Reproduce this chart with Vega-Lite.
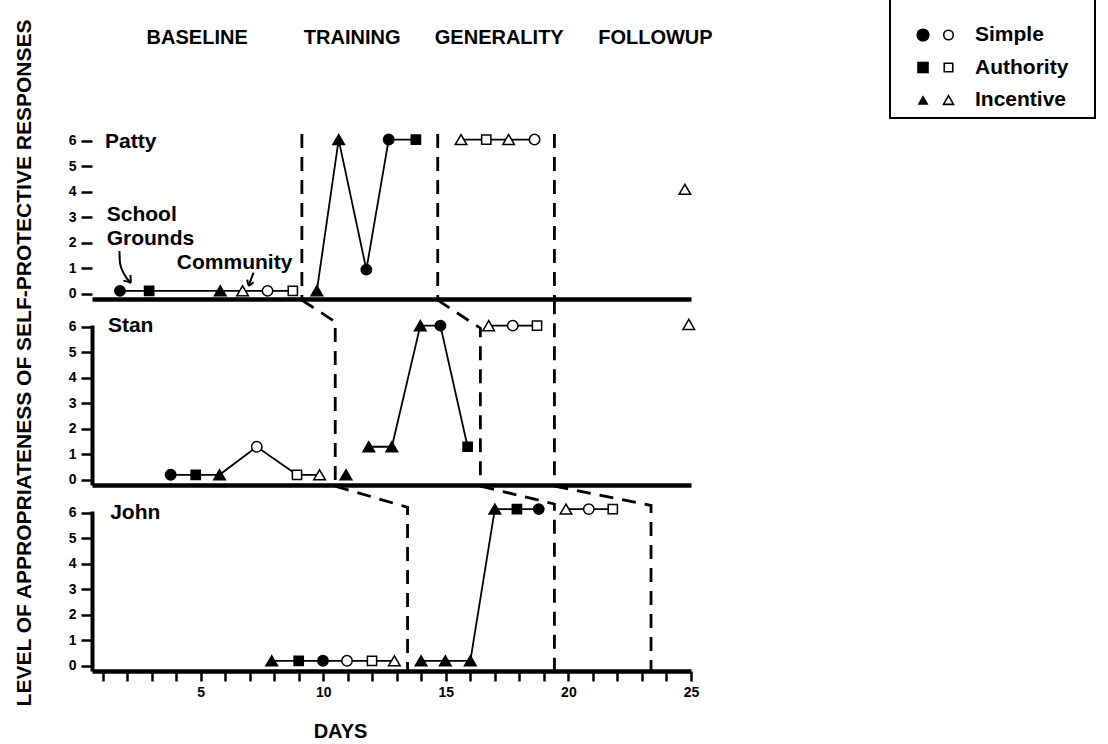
{
  "$schema": "https://vega.github.io/schema/vega-lite/v6.json",
  "padding": {"top": -15, "left": 14, "right": 0, "bottom": 0},
  "title": {"text": "LEVEL OF APPROPRIATENESS OF SELF-PROTECTIVE RESPONSES", "orient": "left", "anchor": "middle", "fontSize": 21, "fontWeight": "bold", "offset": 33, "color": "black", "font": "Liberation Sans"},
  "datasets": {
    "obs": [
      {"child": "Patty", "day": 1.71, "level": 0.12, "lure": "Simple", "setting": "School grounds", "segment": "baseline"},
      {"child": "Patty", "day": 2.90, "level": 0.12, "lure": "Authority", "setting": "School grounds", "segment": "baseline"},
      {"child": "Patty", "day": 5.80, "level": 0.12, "lure": "Incentive", "setting": "School grounds", "segment": "baseline"},
      {"child": "Patty", "day": 6.71, "level": 0.12, "lure": "Incentive", "setting": "Community", "segment": "baseline"},
      {"child": "Patty", "day": 7.73, "level": 0.12, "lure": "Simple", "setting": "Community", "segment": "baseline"},
      {"child": "Patty", "day": 8.76, "level": 0.12, "lure": "Authority", "setting": "Community", "segment": "baseline"},
      {"child": "Patty", "day": 9.74, "level": 0.12, "lure": "Incentive", "setting": "School grounds", "segment": "training"},
      {"child": "Patty", "day": 10.63, "level": 6.05, "lure": "Incentive", "setting": "School grounds", "segment": "training"},
      {"child": "Patty", "day": 11.76, "level": 0.95, "lure": "Simple", "setting": "School grounds", "segment": "training"},
      {"child": "Patty", "day": 12.67, "level": 6.05, "lure": "Simple", "setting": "School grounds", "segment": "training"},
      {"child": "Patty", "day": 13.78, "level": 6.05, "lure": "Authority", "setting": "School grounds", "segment": "training"},
      {"child": "Patty", "day": 15.62, "level": 6.05, "lure": "Incentive", "setting": "Community", "segment": "generality"},
      {"child": "Patty", "day": 16.65, "level": 6.05, "lure": "Authority", "setting": "Community", "segment": "generality"},
      {"child": "Patty", "day": 17.56, "level": 6.05, "lure": "Incentive", "setting": "Community", "segment": "generality"},
      {"child": "Patty", "day": 18.62, "level": 6.05, "lure": "Simple", "setting": "Community", "segment": "generality"},
      {"child": "Patty", "day": 24.75, "level": 4.1, "lure": "Incentive", "setting": "Community", "segment": "followup"},
      {"child": "Stan", "day": 3.78, "level": 0.2, "lure": "Simple", "setting": "School grounds", "segment": "baseline"},
      {"child": "Stan", "day": 4.80, "level": 0.2, "lure": "Authority", "setting": "School grounds", "segment": "baseline"},
      {"child": "Stan", "day": 5.77, "level": 0.2, "lure": "Incentive", "setting": "School grounds", "segment": "baseline"},
      {"child": "Stan", "day": 7.29, "level": 1.3, "lure": "Simple", "setting": "Community", "segment": "baseline"},
      {"child": "Stan", "day": 8.93, "level": 0.2, "lure": "Authority", "setting": "Community", "segment": "baseline"},
      {"child": "Stan", "day": 9.85, "level": 0.2, "lure": "Incentive", "setting": "Community", "segment": "baseline"},
      {"child": "Stan", "day": 10.93, "level": 0.2, "lure": "Incentive", "setting": "School grounds", "segment": "training1"},
      {"child": "Stan", "day": 11.86, "level": 1.3, "lure": "Incentive", "setting": "School grounds", "segment": "training2"},
      {"child": "Stan", "day": 12.80, "level": 1.3, "lure": "Incentive", "setting": "School grounds", "segment": "training2"},
      {"child": "Stan", "day": 13.96, "level": 6.05, "lure": "Incentive", "setting": "School grounds", "segment": "training2"},
      {"child": "Stan", "day": 14.78, "level": 6.05, "lure": "Simple", "setting": "School grounds", "segment": "training2"},
      {"child": "Stan", "day": 15.89, "level": 1.3, "lure": "Authority", "setting": "School grounds", "segment": "training2"},
      {"child": "Stan", "day": 16.75, "level": 6.05, "lure": "Incentive", "setting": "Community", "segment": "generality"},
      {"child": "Stan", "day": 17.73, "level": 6.05, "lure": "Simple", "setting": "Community", "segment": "generality"},
      {"child": "Stan", "day": 18.72, "level": 6.05, "lure": "Authority", "setting": "Community", "segment": "generality"},
      {"child": "Stan", "day": 24.91, "level": 6.1, "lure": "Incentive", "setting": "Community", "segment": "followup"},
      {"child": "John", "day": 7.90, "level": 0.2, "lure": "Incentive", "setting": "School grounds", "segment": "baseline"},
      {"child": "John", "day": 9.00, "level": 0.2, "lure": "Authority", "setting": "School grounds", "segment": "baseline"},
      {"child": "John", "day": 9.99, "level": 0.2, "lure": "Simple", "setting": "School grounds", "segment": "baseline"},
      {"child": "John", "day": 10.97, "level": 0.2, "lure": "Simple", "setting": "Community", "segment": "baseline"},
      {"child": "John", "day": 11.99, "level": 0.2, "lure": "Authority", "setting": "Community", "segment": "baseline"},
      {"child": "John", "day": 12.90, "level": 0.2, "lure": "Incentive", "setting": "Community", "segment": "baseline"},
      {"child": "John", "day": 13.99, "level": 0.2, "lure": "Incentive", "setting": "School grounds", "segment": "training"},
      {"child": "John", "day": 14.98, "level": 0.2, "lure": "Incentive", "setting": "School grounds", "segment": "training"},
      {"child": "John", "day": 16.00, "level": 0.2, "lure": "Incentive", "setting": "School grounds", "segment": "training"},
      {"child": "John", "day": 17.00, "level": 6.15, "lure": "Incentive", "setting": "School grounds", "segment": "training"},
      {"child": "John", "day": 17.90, "level": 6.15, "lure": "Authority", "setting": "School grounds", "segment": "training"},
      {"child": "John", "day": 18.79, "level": 6.15, "lure": "Simple", "setting": "School grounds", "segment": "training"},
      {"child": "John", "day": 19.90, "level": 6.15, "lure": "Incentive", "setting": "Community", "segment": "generality"},
      {"child": "John", "day": 20.83, "level": 6.15, "lure": "Simple", "setting": "Community", "segment": "generality"},
      {"child": "John", "day": 21.81, "level": 6.15, "lure": "Authority", "setting": "Community", "segment": "generality"}
    ],
    "phase": [
      {"child": "Patty", "change": "A", "seq": 1, "day": 9.13, "level": 6.27},
      {"child": "Patty", "change": "A", "seq": 2, "day": 9.13, "level": -0.2},
      {"child": "Patty", "change": "B", "seq": 1, "day": 14.67, "level": 6.27},
      {"child": "Patty", "change": "B", "seq": 2, "day": 14.67, "level": -0.2},
      {"child": "Patty", "change": "C", "seq": 1, "day": 19.43, "level": 6.27},
      {"child": "Patty", "change": "C", "seq": 2, "day": 19.43, "level": -0.2},
      {"child": "Stan", "change": "A", "seq": 1, "day": 9.13, "level": 7.05},
      {"child": "Stan", "change": "A", "seq": 2, "day": 10.49, "level": 6.2},
      {"child": "Stan", "change": "A", "seq": 3, "day": 10.49, "level": -0.2},
      {"child": "Stan", "change": "B", "seq": 1, "day": 14.67, "level": 7.05},
      {"child": "Stan", "change": "B", "seq": 2, "day": 16.41, "level": 5.95},
      {"child": "Stan", "change": "B", "seq": 3, "day": 16.41, "level": -0.2},
      {"child": "Stan", "change": "C", "seq": 1, "day": 19.43, "level": 7.05},
      {"child": "Stan", "change": "C", "seq": 2, "day": 19.43, "level": -0.2},
      {"child": "John", "change": "A", "seq": 1, "day": 10.49, "level": 7.05},
      {"child": "John", "change": "A", "seq": 2, "day": 13.44, "level": 6.22},
      {"child": "John", "change": "A", "seq": 3, "day": 13.44, "level": -0.2},
      {"child": "John", "change": "B", "seq": 1, "day": 16.41, "level": 7.05},
      {"child": "John", "change": "B", "seq": 2, "day": 19.43, "level": 6.35},
      {"child": "John", "change": "B", "seq": 3, "day": 19.43, "level": -0.2},
      {"child": "John", "change": "C", "seq": 1, "day": 19.43, "level": 7.05},
      {"child": "John", "change": "C", "seq": 2, "day": 23.37, "level": 6.29},
      {"child": "John", "change": "C", "seq": 3, "day": 23.37, "level": -0.2}
    ],
    "notes": [
      {"child": "Patty", "kind": "name", "text": "Patty", "day": 1.1, "level": 5.73},
      {"child": "Stan", "kind": "name", "text": "Stan", "day": 1.22, "level": 5.81},
      {"child": "John", "kind": "name", "text": "John", "day": 1.31, "level": 5.77},
      {"child": "Patty", "kind": "note", "text": "School", "day": 1.17, "level": 2.86},
      {"child": "Patty", "kind": "note", "text": "Grounds", "day": 1.17, "level": 1.92},
      {"child": "Patty", "kind": "note", "text": "Community", "day": 4.03, "level": 0.96},
      {"child": "Patty", "kind": "phase", "text": "BASELINE", "day": 4.86, "level": 10.04},
      {"child": "Patty", "kind": "phase", "text": "TRAINING", "day": 11.18, "level": 10.04},
      {"child": "Patty", "kind": "phase", "text": "GENERALITY", "day": 17.18, "level": 10.04},
      {"child": "Patty", "kind": "phase", "text": "FOLLOWUP", "day": 23.55, "level": 10.04}
    ],
    "arrows": [
      {"child": "Patty", "arrow": "school", "seq": 1, "day": 1.69, "level": 1.68},
      {"child": "Patty", "arrow": "school", "seq": 2, "day": 1.71, "level": 1.21},
      {"child": "Patty", "arrow": "school", "seq": 3, "day": 1.88, "level": 0.78},
      {"child": "Patty", "arrow": "school", "seq": 4, "day": 2.16, "level": 0.43},
      {"child": "Patty", "arrow": "schoolhead", "seq": 1, "day": 1.85, "level": 0.52},
      {"child": "Patty", "arrow": "schoolhead", "seq": 2, "day": 2.16, "level": 0.43},
      {"child": "Patty", "arrow": "schoolhead", "seq": 3, "day": 2.14, "level": 0.74},
      {"child": "Patty", "arrow": "community", "seq": 1, "day": 7.16, "level": 0.83},
      {"child": "Patty", "arrow": "community", "seq": 2, "day": 6.96, "level": 0.33},
      {"child": "Patty", "arrow": "communityhead", "seq": 1, "day": 6.90, "level": 0.56},
      {"child": "Patty", "arrow": "communityhead", "seq": 2, "day": 6.96, "level": 0.33},
      {"child": "Patty", "arrow": "communityhead", "seq": 3, "day": 7.16, "level": 0.46}
    ],
    "key": [
      {"lure": "Simple", "setting": "School grounds"},
      {"lure": "Simple", "setting": "Community"},
      {"lure": "Authority", "setting": "School grounds"},
      {"lure": "Authority", "setting": "Community"},
      {"lure": "Incentive", "setting": "School grounds"},
      {"lure": "Incentive", "setting": "Community"}
    ]
  },
  "hconcat": [
    {
      "spacing": 26,
      "bounds": "flush",
      "vconcat": [
        {
          "width": 599,
          "height": 313,
          "encoding": {
            "x": {"field": "day", "type": "quantitative", "scale": {"domain": [0.57, 25], "nice": false, "zero": false}, "axis": {"title": null, "labels": false, "ticks": false, "domainWidth": 4.5}},
            "y": {"field": "level", "type": "quantitative", "scale": {"domain": [-0.2, 12.07], "nice": false, "zero": false}, "axis": {"title": null, "values": [0, 1, 2, 3, 4, 5, 6], "domain": false, "tickSize": 11, "tickWidth": 2.5, "labelPadding": 5}}
          },
          "layer": [
            {"data": {"name": "phase"}, "transform": [{"filter": "datum.child === 'Patty'"}], "mark": {"type": "line", "color": "black", "strokeWidth": 2.8, "strokeDash": [14, 9]}, "encoding": {"detail": {"field": "change"}, "order": {"field": "seq"}}},
            {"data": {"values": [{}]}, "mark": {"type": "rule", "color": "black", "strokeWidth": 4}, "encoding": {"x": {"datum": 0.57}, "y": {"datum": -0.2}, "y2": {"datum": 6.075}}},
            {"data": {"name": "obs"}, "transform": [{"filter": "datum.child === 'Patty'"}], "mark": {"type": "line", "color": "black", "strokeWidth": 1.8}, "encoding": {"detail": {"field": "segment"}, "order": {"field": "day"}}},
            {"data": {"name": "obs"}, "transform": [{"filter": "datum.child === 'Patty'"}], "mark": {"type": "point", "filled": true, "stroke": "black", "strokeWidth": 1.5, "opacity": 1},
              "encoding": {
                "shape": {"field": "lure", "type": "nominal", "scale": {"domain": ["Simple", "Authority", "Incentive"], "range": ["circle", "square", "triangle-up"]}, "legend": null},
                "size": {"field": "lure", "type": "nominal", "scale": {"type": "ordinal", "domain": ["Simple", "Authority", "Incentive"], "range": [108, 85, 135]}, "legend": null},
                "fill": {"field": "setting", "type": "nominal", "scale": {"domain": ["School grounds", "Community"], "range": ["black", "white"]}, "legend": null}
              }},
            {"data": {"name": "arrows"}, "transform": [{"filter": "datum.child === 'Patty'"}], "mark": {"type": "line", "color": "black", "strokeWidth": 2, "interpolate": "monotone"}, "encoding": {"detail": {"field": "arrow"}, "order": {"field": "seq"}}},
            {"data": {"name": "notes"}, "transform": [{"filter": "datum.child === 'Patty' && datum.kind !== 'phase'"}], "mark": {"type": "text", "align": "left", "baseline": "alphabetic", "fontSize": 21, "fontWeight": "bold", "color": "black"}, "encoding": {"text": {"field": "text", "type": "nominal"}}},
            {"data": {"name": "notes"}, "transform": [{"filter": "datum.kind === 'phase'"}], "mark": {"type": "text", "align": "center", "baseline": "middle", "fontSize": 20, "fontWeight": "bold", "color": "black"}, "encoding": {"text": {"field": "text", "type": "nominal"}}}
          ]
        },
        {
          "width": 599,
          "height": 160,
          "encoding": {
            "x": {"field": "day", "type": "quantitative", "scale": {"domain": [0.57, 25], "nice": false, "zero": false}, "axis": {"title": null, "labels": false, "ticks": false, "domainWidth": 4.5}},
            "y": {"field": "level", "type": "quantitative", "scale": {"domain": [-0.2, 6.075], "nice": false, "zero": false}, "axis": {"title": null, "values": [0, 1, 2, 3, 4, 5, 6], "domainWidth": 4, "tickSize": 11, "tickWidth": 2.5, "labelPadding": 5}}
          },
          "layer": [
            {"data": {"name": "phase"}, "transform": [{"filter": "datum.child === 'Stan'"}], "mark": {"type": "line", "color": "black", "strokeWidth": 2.8, "strokeDash": [14, 9]}, "encoding": {"detail": {"field": "change"}, "order": {"field": "seq"}}},
            {"data": {"name": "obs"}, "transform": [{"filter": "datum.child === 'Stan'"}], "mark": {"type": "line", "color": "black", "strokeWidth": 1.8}, "encoding": {"detail": {"field": "segment"}, "order": {"field": "day"}}},
            {"data": {"name": "obs"}, "transform": [{"filter": "datum.child === 'Stan'"}], "mark": {"type": "point", "filled": true, "stroke": "black", "strokeWidth": 1.5, "opacity": 1},
              "encoding": {
                "shape": {"field": "lure", "type": "nominal", "scale": {"domain": ["Simple", "Authority", "Incentive"], "range": ["circle", "square", "triangle-up"]}, "legend": null},
                "size": {"field": "lure", "type": "nominal", "scale": {"type": "ordinal", "domain": ["Simple", "Authority", "Incentive"], "range": [108, 85, 135]}, "legend": null},
                "fill": {"field": "setting", "type": "nominal", "scale": {"domain": ["School grounds", "Community"], "range": ["black", "white"]}, "legend": null}
              }},
            {"data": {"name": "notes"}, "transform": [{"filter": "datum.child === 'Stan'"}], "mark": {"type": "text", "align": "left", "baseline": "alphabetic", "fontSize": 21, "fontWeight": "bold", "color": "black"}, "encoding": {"text": {"field": "text", "type": "nominal"}}}
          ]
        },
        {
          "width": 599,
          "height": 160,
          "encoding": {
            "x": {"field": "day", "type": "quantitative", "scale": {"domain": [0.57, 25], "nice": false, "zero": false},
              "axis": {"title": "DAYS", "values": [1, 2, 3, 4, 5, 6, 7, 8, 9, 10, 11, 12, 13, 14, 15, 16, 17, 18, 19, 20, 21, 22, 23, 24, 25], "labelExpr": "datum.value % 5 === 0 ? datum.label : ''", "labelOverlap": false, "labelFlush": false, "tickSize": 10, "tickWidth": 2.5, "domainWidth": 4.5, "labelPadding": 4, "titleFontSize": 20, "titleX": 248, "titleAlign": "center", "titlePadding": 22}},
            "y": {"field": "level", "type": "quantitative", "scale": {"domain": [-0.2, 6.075], "nice": false, "zero": false}, "axis": {"title": null, "values": [0, 1, 2, 3, 4, 5, 6], "domainWidth": 4, "tickSize": 11, "tickWidth": 2.5, "labelPadding": 5}}
          },
          "layer": [
            {"data": {"name": "phase"}, "transform": [{"filter": "datum.child === 'John'"}], "mark": {"type": "line", "color": "black", "strokeWidth": 2.8, "strokeDash": [14, 9]}, "encoding": {"detail": {"field": "change"}, "order": {"field": "seq"}}},
            {"data": {"name": "obs"}, "transform": [{"filter": "datum.child === 'John'"}], "mark": {"type": "line", "color": "black", "strokeWidth": 1.8}, "encoding": {"detail": {"field": "segment"}, "order": {"field": "day"}}},
            {"data": {"name": "obs"}, "transform": [{"filter": "datum.child === 'John'"}], "mark": {"type": "point", "filled": true, "stroke": "black", "strokeWidth": 1.5, "opacity": 1},
              "encoding": {
                "shape": {"field": "lure", "type": "nominal", "scale": {"domain": ["Simple", "Authority", "Incentive"], "range": ["circle", "square", "triangle-up"]}, "legend": null},
                "size": {"field": "lure", "type": "nominal", "scale": {"type": "ordinal", "domain": ["Simple", "Authority", "Incentive"], "range": [108, 85, 135]}, "legend": null},
                "fill": {"field": "setting", "type": "nominal", "scale": {"domain": ["School grounds", "Community"], "range": ["black", "white"]}, "legend": null}
              }},
            {"data": {"name": "notes"}, "transform": [{"filter": "datum.child === 'John'"}], "mark": {"type": "text", "align": "left", "baseline": "alphabetic", "fontSize": 21, "fontWeight": "bold", "color": "black"}, "encoding": {"text": {"field": "text", "type": "nominal"}}}
          ]
        }
      ]
    },
    {
      "width": 205,
      "height": 132,
      "view": {"stroke": "black", "strokeWidth": 2, "strokeDash": [0, 205, 469, 0]},
      "data": {"name": "key"},
      "encoding": {
        "x": {"field": "setting", "type": "nominal", "scale": {"type": "point", "domain": ["School grounds", "Community"], "range": [33, 58.5], "padding": 0}, "axis": null},
        "y": {"field": "lure", "type": "nominal", "scale": {"type": "point", "domain": ["Simple", "Authority", "Incentive"], "range": [49, 114], "padding": 0}, "axis": null},
        "shape": {"field": "lure", "type": "nominal", "scale": {"domain": ["Simple", "Authority", "Incentive"], "range": ["circle", "square", "triangle-up"]}, "legend": null}
      },
      "layer": [
        {"transform": [{"filter": "datum.setting === 'School grounds'"}], "mark": {"type": "point", "filled": true, "color": "black", "opacity": 1},
          "encoding": {"size": {"field": "lure", "type": "nominal", "scale": {"type": "ordinal", "domain": ["Simple", "Authority", "Incentive"], "range": [175, 135, 121]}, "legend": null}}},
        {"transform": [{"filter": "datum.setting === 'Community'"}], "mark": {"type": "point", "filled": false, "fill": "white", "stroke": "black", "strokeWidth": 1.6, "opacity": 1},
          "encoding": {"size": {"field": "lure", "type": "nominal", "scale": {"type": "ordinal", "domain": ["Simple", "Authority", "Incentive"], "range": [92, 72, 100]}, "legend": null}}},
        {"transform": [{"filter": "datum.setting === 'Community'"}], "mark": {"type": "text", "align": "left", "baseline": "middle", "dx": 26.5, "fontSize": 21, "fontWeight": "bold", "color": "black"},
          "encoding": {"text": {"field": "lure", "type": "nominal"}}}
      ],
      "resolve": {"scale": {"size": "independent"}}
    }
  ],
  "spacing": 176,
  "resolve": {"scale": {"size": "independent", "shape": "independent", "fill": "independent"}},
  "config": {
    "font": "Liberation Sans",
    "view": {"stroke": null},
    "axis": {"domainColor": "black", "tickColor": "black", "labelColor": "black", "labelFont": "Liberation Sans", "labelFontWeight": "bold", "labelFontSize": 14, "grid": false, "titleFont": "Liberation Sans", "titleFontWeight": "bold", "titleColor": "black"},
    "text": {"font": "Liberation Sans"}
  }
}
